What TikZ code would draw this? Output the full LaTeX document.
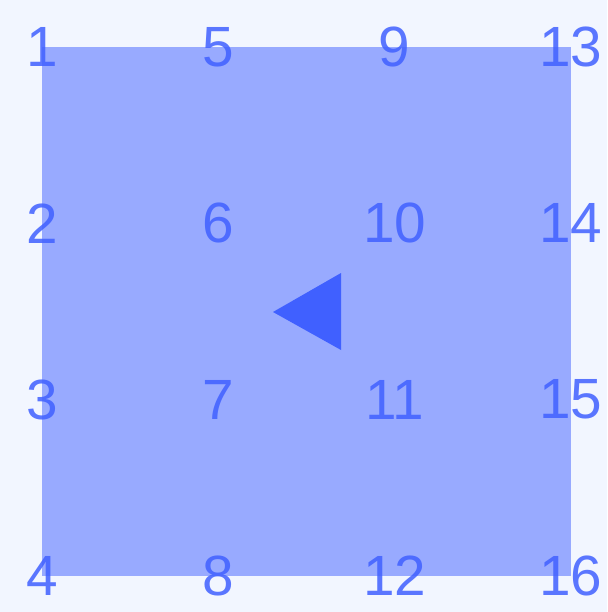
\documentclass[tikz,border=0pt]{standalone}
\usepackage{fontspec}
\setmainfont{Liberation Sans}
\definecolor{PageBg}{HTML}{F2F6FF}
\definecolor{GridBlue}{HTML}{4060FF}

\begin{document}
\begin{tikzpicture}[x=0.0254cm,y=-0.0254cm,line join=round,
    num/.style={inner sep=0pt,text=GridBlue,text opacity=.85,font=\fontsize{41}{41}\selectfont}]
  \fill[PageBg] (0,0) rectangle (607,612);
  \coordinate (TL) at (42,47); \coordinate (BR) at (571,576);
  \fill[GridBlue,opacity=.5] (TL) rectangle (BR);
  \foreach \c in {0,...,3} \foreach \r in {0,...,3} {
    \pgfmathtruncatemacro\k{4*\c+\r+1}
    \node[num] (n\k) at (42+176.33*\c,47+176.33*\r) {\k};
  }
  \fill[GridBlue] (273,312) -- (341,273) -- (341,350) -- cycle;
\end{tikzpicture}
\end{document}
